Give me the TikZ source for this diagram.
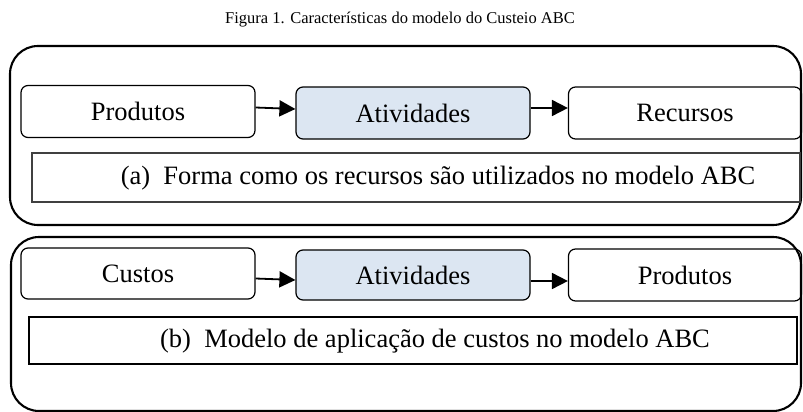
\documentclass[tikz,border=0pt]{standalone}
\usepackage{fontspec}
\setmainfont{Liberation Serif}
\usetikzlibrary{arrows.meta}
\definecolor{actfill}{HTML}{DCE6F2}
\tikzset{
  outerbox/.style={draw=black, line width=2.1pt, rounded corners=28pt},
  stepbox/.style={draw=black, line width=1.2pt, rounded corners=7pt, minimum width=234pt, minimum height=52pt, inner sep=0pt, font=\fontsize{26.5}{30}\selectfont},
  actbox/.style={stepbox, fill=actfill},
  capbox/.style={draw=black, line width=1.1pt, inner sep=0pt},
  captext/.style={font=\fontsize{26.5}{30}\selectfont, inner sep=0pt},
  flow/.style={line width=1.8pt, -{Triangle[length=16pt,width=16pt]}}
}
\begin{document}
\begin{tikzpicture}[x=1pt,y=-1pt]
\useasboundingbox (0,0) rectangle (803,412);
\node[font=\fontsize{16.5}{19}\selectfont, inner sep=0pt] (title) at (400,20) {Figura 1. Características do modelo do Custeio ABC};
% panel (a)
\draw[outerbox] (10,46) rectangle (801,225);
\node[stepbox] (pa) at (138,111.5) {Produtos};
\node[actbox] (aa) at (413,113) {Atividades};
\node[stepbox, minimum width=233pt] (ra) at (685,113) {Recursos};
\draw[flow] ([yshift=4pt]pa.east) -- ([yshift=4pt]aa.west);
\draw[flow] ([yshift=5pt]aa.east) -- ([yshift=5pt]ra.west);
\node[capbox, draw=black!75, line width=2pt, minimum width=768pt, minimum height=49pt] (capa) at (416,177.5) {};
\node[captext] (capatext) at (438,178) {(a)\hspace{0.5em}Forma como os recursos são utilizados no modelo ABC};
% panel (b)
\draw[outerbox] (11,237) rectangle (801,411);
\node[stepbox, minimum height=51pt] (cb) at (138,273.5) {Custos};
\node[actbox, minimum height=50pt] (ab) at (413,275) {Atividades};
\node[stepbox, minimum width=233pt] (pb) at (685,275) {Produtos};
\draw[flow] ([yshift=-5pt]cb.east) -- ([yshift=-5pt]ab.west);
\draw[flow] ([yshift=-6pt]ab.east) -- ([yshift=-6pt]pb.west);
\node[capbox, minimum width=768pt, minimum height=47pt] (capb) at (413,340.5) {};
\node[captext] (capbtext) at (435,341) {(b)\hspace{0.5em}Modelo de aplicação de custos no modelo ABC};
\end{tikzpicture}
\end{document}
